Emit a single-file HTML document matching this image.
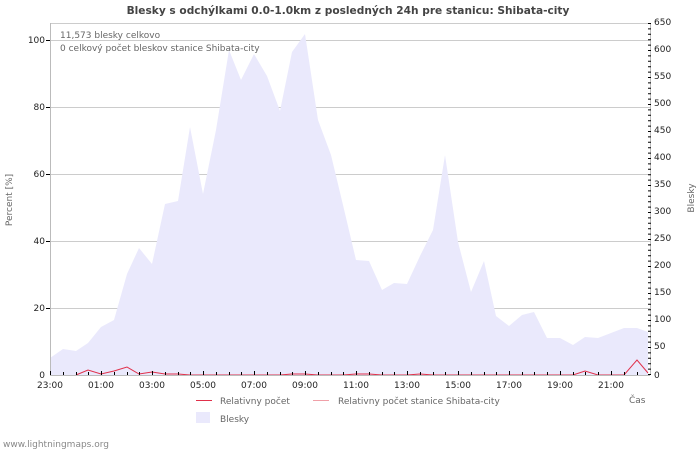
<!DOCTYPE html>
<html><head><meta charset="utf-8"><style>
body{margin:0;background:#fff;width:700px;height:450px;overflow:hidden}
text{font-family:"DejaVu Sans","Liberation Sans",sans-serif}
</style></head><body>
<svg width="700" height="450" xmlns="http://www.w3.org/2000/svg">
<text x="348" y="14" font-size="10.6" font-weight="bold" fill="#444" text-anchor="middle">Blesky s odchýlkami 0.0-1.0km z posledných 24h pre stanicu: Shibata-city</text>
<g stroke="#ccc" stroke-width="1">
<line x1="50" y1="40.5" x2="650" y2="40.5"/><line x1="50" y1="107.5" x2="650" y2="107.5"/><line x1="50" y1="174.5" x2="650" y2="174.5"/><line x1="50" y1="241.5" x2="650" y2="241.5"/><line x1="50" y1="308.5" x2="650" y2="308.5"/><line x1="50" y1="23.5" x2="650" y2="23.5"/>
</g>
<polygon fill="#eae9fc" points="50,375 50,358 63,349 76,351 88,343 101,327 114,320 127,274 139,248 152,264 165,204 178,201 190,127 203,194 216,130 229,50 241,80 254,54 267,76 280,111 292,52 305,34 318,120 331,155 343,205 356,260 369,261 382,290 394,283 407,284 420,256 433,230 445,155 458,242 471,292 484,261 496,316 509,326 522,315 534,312 547,338 560,338 573,345 585,337 598,338 611,333 624,328 637,328 648,332 648,375"/>
<polyline fill="none" stroke="#e0304a" stroke-width="1" points="76,375 88,370 101,374 114,371 127,367 139,374 152,372 165,374 178,374 190,375 203,375 216,375 229,375 241,375 254,375 267,375 280,375 292,374 305,374 318,375 331,375 343,375 356,374 369,374 382,375 394,375 407,375 420,374 433,375 445,375 458,375 471,375 484,375 496,375 509,375 522,375 534,375 547,375 560,375 573,375 585,371 598,375 611,375 624,375 637,360 648,373"/>
<line x1="50.5" y1="23" x2="50.5" y2="375" stroke="#bbb"/>
<line x1="650.5" y1="23" x2="650.5" y2="375" stroke="#bbb"/>
<line x1="50" y1="375.5" x2="650" y2="375.5" stroke="#bbb"/>
<g font-size="9" fill="#222">
<text x="45" y="43" text-anchor="end">100</text><text x="45" y="110" text-anchor="end">80</text><text x="45" y="177" text-anchor="end">60</text><text x="45" y="244" text-anchor="end">40</text><text x="45" y="311" text-anchor="end">20</text><text x="45" y="378" text-anchor="end">0</text>
<text x="654" y="25">650</text><text x="654" y="52">600</text><text x="654" y="79">550</text><text x="654" y="106">500</text><text x="654" y="133">450</text><text x="654" y="160">400</text><text x="654" y="187">350</text><text x="654" y="214">300</text><text x="654" y="241">250</text><text x="654" y="268">200</text><text x="654" y="295">150</text><text x="654" y="322">100</text><text x="654" y="349">50</text><text x="654" y="378">0</text>
<text x="50" y="388" text-anchor="middle">23:00</text><text x="101" y="388" text-anchor="middle">01:00</text><text x="152" y="388" text-anchor="middle">03:00</text><text x="203" y="388" text-anchor="middle">05:00</text><text x="254" y="388" text-anchor="middle">07:00</text><text x="305" y="388" text-anchor="middle">09:00</text><text x="356" y="388" text-anchor="middle">11:00</text><text x="407" y="388" text-anchor="middle">13:00</text><text x="458" y="388" text-anchor="middle">15:00</text><text x="509" y="388" text-anchor="middle">17:00</text><text x="560" y="388" text-anchor="middle">19:00</text><text x="611" y="388" text-anchor="middle">21:00</text>
</g>
<g font-size="9" fill="#666">
<text x="60" y="38">11,573 blesky celkovo</text>
<text x="60" y="51">0 celkový počet bleskov stanice Shibata-city</text>
<text x="629" y="403">Čas</text>
<text transform="translate(12,200) rotate(-90)" text-anchor="middle">Percent   [%]</text>
<text transform="translate(694,198) rotate(-90)" text-anchor="middle">Blesky</text>
<text x="220" y="404">Relativny počet</text>
<text x="338" y="404">Relativny počet stanice Shibata-city</text>
<text x="220" y="422">Blesky</text>
<text x="3" y="447" fill="#888">www.lightningmaps.org</text>
</g>
<line x1="196" y1="400.5" x2="212" y2="400.5" stroke="#e0304a"/>
<line x1="313" y1="400.5" x2="329" y2="400.5" stroke="#f0a0a8"/>
<rect x="196" y="412" width="14" height="11" fill="#eae9fc"/>
<g stroke="#000">
<line x1="50.5" y1="371" x2="50.5" y2="375"/><line x1="63.5" y1="372" x2="63.5" y2="375"/><line x1="76.5" y1="372" x2="76.5" y2="375"/><line x1="88.5" y1="372" x2="88.5" y2="375"/><line x1="101.5" y1="371" x2="101.5" y2="375"/><line x1="114.5" y1="372" x2="114.5" y2="375"/><line x1="127.5" y1="372" x2="127.5" y2="375"/><line x1="139.5" y1="372" x2="139.5" y2="375"/><line x1="152.5" y1="371" x2="152.5" y2="375"/><line x1="165.5" y1="372" x2="165.5" y2="375"/><line x1="178.5" y1="372" x2="178.5" y2="375"/><line x1="190.5" y1="372" x2="190.5" y2="375"/><line x1="203.5" y1="371" x2="203.5" y2="375"/><line x1="216.5" y1="372" x2="216.5" y2="375"/><line x1="229.5" y1="372" x2="229.5" y2="375"/><line x1="241.5" y1="372" x2="241.5" y2="375"/><line x1="254.5" y1="371" x2="254.5" y2="375"/><line x1="267.5" y1="372" x2="267.5" y2="375"/><line x1="280.5" y1="372" x2="280.5" y2="375"/><line x1="292.5" y1="372" x2="292.5" y2="375"/><line x1="305.5" y1="371" x2="305.5" y2="375"/><line x1="318.5" y1="372" x2="318.5" y2="375"/><line x1="331.5" y1="372" x2="331.5" y2="375"/><line x1="343.5" y1="372" x2="343.5" y2="375"/><line x1="356.5" y1="371" x2="356.5" y2="375"/><line x1="369.5" y1="372" x2="369.5" y2="375"/><line x1="382.5" y1="372" x2="382.5" y2="375"/><line x1="394.5" y1="372" x2="394.5" y2="375"/><line x1="407.5" y1="371" x2="407.5" y2="375"/><line x1="420.5" y1="372" x2="420.5" y2="375"/><line x1="433.5" y1="372" x2="433.5" y2="375"/><line x1="445.5" y1="372" x2="445.5" y2="375"/><line x1="458.5" y1="371" x2="458.5" y2="375"/><line x1="471.5" y1="372" x2="471.5" y2="375"/><line x1="484.5" y1="372" x2="484.5" y2="375"/><line x1="496.5" y1="372" x2="496.5" y2="375"/><line x1="509.5" y1="371" x2="509.5" y2="375"/><line x1="522.5" y1="372" x2="522.5" y2="375"/><line x1="534.5" y1="372" x2="534.5" y2="375"/><line x1="547.5" y1="372" x2="547.5" y2="375"/><line x1="560.5" y1="371" x2="560.5" y2="375"/><line x1="573.5" y1="372" x2="573.5" y2="375"/><line x1="585.5" y1="372" x2="585.5" y2="375"/><line x1="598.5" y1="372" x2="598.5" y2="375"/><line x1="611.5" y1="371" x2="611.5" y2="375"/><line x1="624.5" y1="372" x2="624.5" y2="375"/><line x1="637.5" y1="372" x2="637.5" y2="375"/>
<line x1="46" y1="40.5" x2="50" y2="40.5"/><line x1="46" y1="107.5" x2="50" y2="107.5"/><line x1="46" y1="174.5" x2="50" y2="174.5"/><line x1="46" y1="241.5" x2="50" y2="241.5"/><line x1="46" y1="308.5" x2="50" y2="308.5"/>
</g>
<g stroke="#000" stroke-dasharray="1,4.4">
<line x1="649.5" y1="23" x2="649.5" y2="375" stroke-width="3"/>
</g>
</svg>
</body></html>
